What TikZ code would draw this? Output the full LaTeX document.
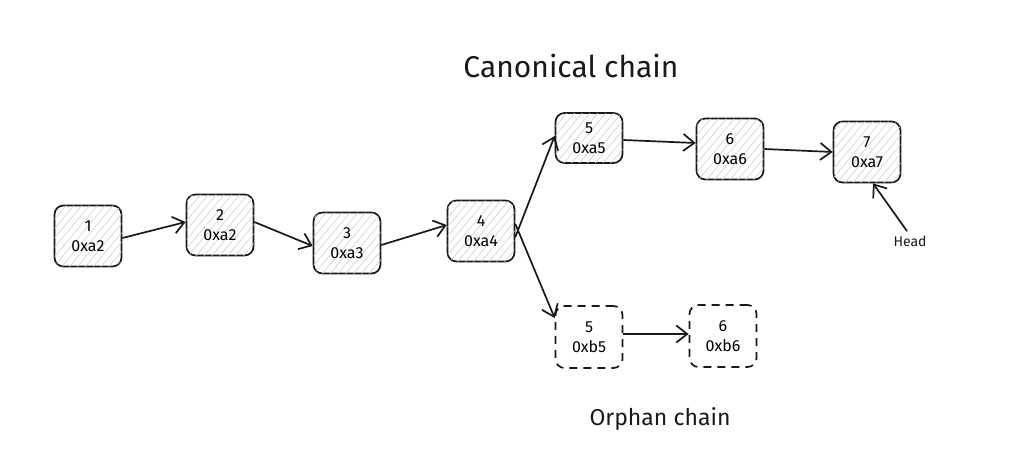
\documentclass[tikz,border=0pt]{standalone}
\usepackage{fontspec}
\setmainfont{Fira Sans}
\usetikzlibrary{arrows.meta,patterns.meta}
\tikzset{
  blk/.style={draw=black!90, line width=1.7pt, rounded corners=9pt, minimum width=67pt, minimum height=61pt,
    align=center, font=\fontsize{16}{20}\selectfont, inner sep=2pt,
    postaction={pattern={Lines[angle=50,distance=6pt,line width=0.7pt]}, pattern color=black!17}},
  orph/.style={draw=black!90, line width=1.7pt, dash pattern=on 8pt off 6pt, rounded corners=9pt,
    minimum width=67pt, minimum height=62pt, align=center, font=\fontsize{16}{20}\selectfont, inner sep=2pt},
  conn/.style={draw=black!90, line width=1.7pt, -{Straight Barb[length=11pt,width=17pt,line width=1.7pt]}},
  title/.style={font=\fontsize{30}{34}\selectfont, text=black!90},
}
\begin{document}
\begin{tikzpicture}[x=1pt,y=-1pt]
\useasboundingbox[fill=white] (0,0) rectangle (1024,471);
\node[blk] (n1) at (88,236) {1\\0xa2};
\node[blk] (n2) at (220,225) {2\\0xa2};
\node[blk] (n3) at (347,243) {3\\0xa3};
\node[blk] (n4) at (481,231) {4\\0xa4};
\node[blk, minimum height=50pt] (n5) at (589,138) {5\\0xa5};
\node[blk] (n6) at (730,149) {6\\0xa6};
\node[blk] (n7) at (867,152) {7\\0xa7};
\node[orph] (m5) at (589,337) {5\\0xb5};
\node[orph] (m6) at (723,336) {6\\0xb6};
\node[font=\fontsize{14}{16}\selectfont, text=black!90] (head) at (910,241) {Head};
\node[title] (canon) at (571,66) {Canonical chain};
\node[title, font=\fontsize{23}{26}\selectfont] (orphan) at (660,419) {Orphan chain};
\draw[conn] (n1.east) ++(0,2) -- ([yshift=3pt]n2.west);
\draw[conn] ([yshift=3pt]n2.east) -- ([yshift=-3pt]n3.west);
\draw[conn] ([yshift=-2pt]n3.east) -- ([yshift=6pt]n4.west);
\draw[conn] ([yshift=-6pt]n4.east) -- ([yshift=2pt]n5.west);
\draw[conn] ([yshift=7pt]n4.east) -- ([yshift=19pt]m5.west);
\draw[conn] ([yshift=-2pt]n5.east) -- ([yshift=6pt]n6.west);
\draw[conn] (n6.east) -- (n7.west);
\draw[conn] ([yshift=3pt]m5.east) -- ([yshift=2pt]m6.west);
\draw[conn] (head.north) ++(-3,-1) -- ([xshift=6pt]n7.south);
\end{tikzpicture}
\end{document}
